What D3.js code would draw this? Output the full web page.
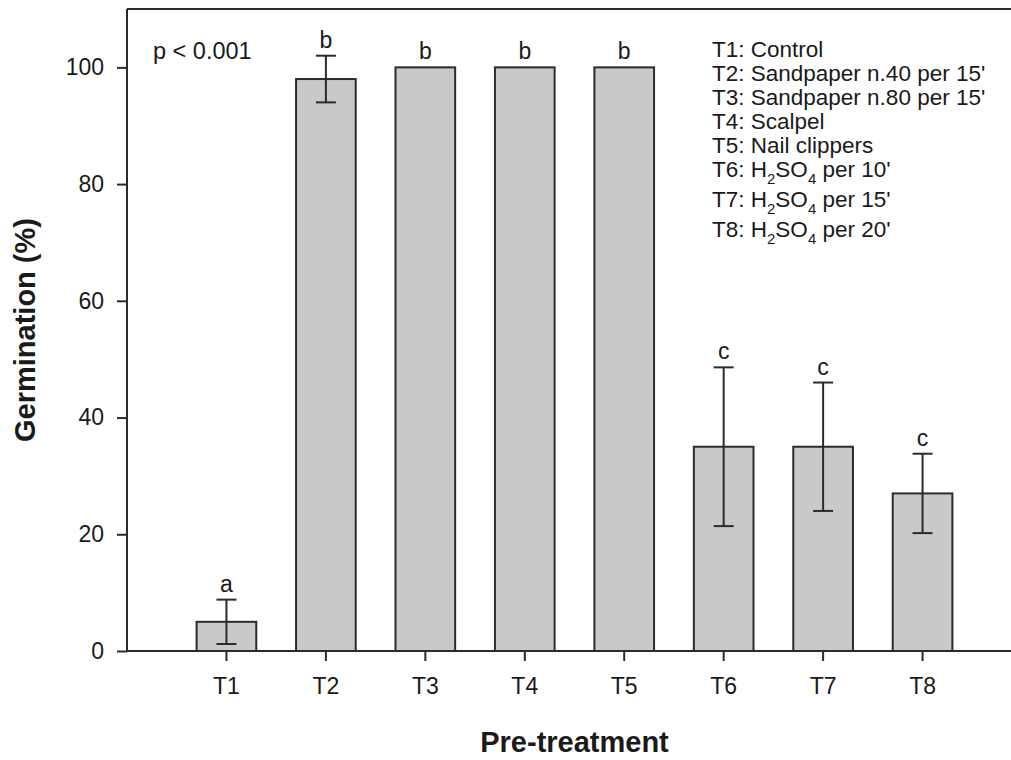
<!DOCTYPE html>
<html>
<head>
<meta charset="utf-8">
<script src="https://cdn.jsdelivr.net/npm/d3@7/dist/d3.min.js"></script>
<style>
  html, body { margin: 0; padding: 0; background: #fff; }
  svg { display: block; }
  text { font-family: "Liberation Sans", Arial, sans-serif; fill: #1a1a1a; }
</style>
</head>
<body>
<svg id="chart" width="1011" height="760"></svg>
<script>
// ---- Data ----
const categories = ["T1", "T2", "T3", "T4", "T5", "T6", "T7", "T8"];
const germination = [5, 98, 100, 100, 100, 35, 35, 27];
const errors = [3.8, 4, 0, 0, 0, 13.6, 11, 6.8];
const letters = ["a", "b", "b", "b", "b", "c", "c", "c"];
const yTicks = [0, 20, 40, 60, 80, 100];
const legendItems = [
  ["T1: Control"],
  ["T2: Sandpaper n.40 per 15'"],
  ["T3: Sandpaper n.80 per 15'"],
  ["T4: Scalpel"],
  ["T5: Nail clippers"],
  ["T6: H", "2", "SO", "4", " per 10'"],
  ["T7: H", "2", "SO", "4", " per 15'"],
  ["T8: H", "2", "SO", "4", " per 20'"]
];
const pText = "p < 0.001";
const xTitle = "Pre-treatment";
const yTitle = "Germination (%)";

// ---- Layout ----
const pLeft = 127, pRight = 1022, pTop = 9, pBottom = 651;
const svg = d3.select("#chart");

const x = d3.scaleBand().domain(categories).range([pLeft, pRight])
  .paddingInner(0.4).paddingOuter(0.7);
const y = d3.scaleLinear().domain([0, 110]).range([pBottom, pTop]);

const ink = "#2b2b2b";

// Bars
svg.append("g").selectAll("rect").data(categories).join("rect")
  .attr("x", d => x(d))
  .attr("y", (d, i) => y(germination[i]))
  .attr("width", x.bandwidth())
  .attr("height", (d, i) => y(0) - y(germination[i]))
  .attr("fill", "#c9c9c9")
  .attr("stroke", ink)
  .attr("stroke-width", 2);

// Error bars
const eg = svg.append("g").attr("stroke", ink).attr("stroke-width", 2);
categories.forEach((c, i) => {
  if (errors[i] <= 0) return;
  const cx = x(c) + x.bandwidth() / 2;
  const y1 = y(germination[i] + errors[i]);
  const y0 = y(germination[i] - errors[i]);
  eg.append("line").attr("x1", cx).attr("x2", cx).attr("y1", y1).attr("y2", y0);
  eg.append("line").attr("x1", cx - 10).attr("x2", cx + 10).attr("y1", y1).attr("y2", y1);
  eg.append("line").attr("x1", cx - 10).attr("x2", cx + 10).attr("y1", y0).attr("y2", y0);
});

// Letters
svg.append("g").selectAll("text").data(categories).join("text")
  .attr("x", d => x(d) + x.bandwidth() / 2)
  .attr("y", (d, i) => y(germination[i] + errors[i]) - 8)
  .attr("text-anchor", "middle")
  .attr("font-size", 23)
  .text((d, i) => letters[i]);

// Frame: top line
svg.append("line").attr("x1", pLeft).attr("x2", pRight).attr("y1", pTop).attr("y2", pTop)
  .attr("stroke", ink).attr("stroke-width", 2);

// Y axis
const yAxis = svg.append("g").attr("transform", `translate(${pLeft},0)`)
  .call(d3.axisLeft(y).tickValues(yTicks).tickSize(10).tickPadding(13).tickSizeOuter(0));
yAxis.select(".domain").remove();
yAxis.append("line").attr("x1", 0).attr("x2", 0).attr("y1", pTop).attr("y2", pBottom)
  .attr("stroke", ink).attr("stroke-width", 2);
yAxis.selectAll(".tick line").attr("stroke", ink).attr("stroke-width", 2);
yAxis.selectAll(".tick text").attr("font-size", 23).attr("fill", "#1a1a1a")
  .style("font-family", '"Liberation Sans", Arial, sans-serif');

// X axis
const xAxis = svg.append("g").attr("transform", `translate(0,${pBottom})`)
  .call(d3.axisBottom(x).tickSize(10).tickPadding(17).tickSizeOuter(0));
xAxis.select(".domain").remove();
xAxis.append("line").attr("x1", pLeft).attr("x2", pRight).attr("y1", 0).attr("y2", 0)
  .attr("stroke", ink).attr("stroke-width", 2);
xAxis.selectAll(".tick line").attr("stroke", ink).attr("stroke-width", 2);
xAxis.selectAll(".tick text").attr("font-size", 23).attr("fill", "#1a1a1a")
  .style("font-family", '"Liberation Sans", Arial, sans-serif');

// Titles
svg.append("text")
  .attr("x", (pLeft + pRight) / 2).attr("y", 752)
  .attr("text-anchor", "middle").attr("font-size", 29).attr("font-weight", "bold")
  .text(xTitle);
svg.append("text")
  .attr("transform", `translate(35,${(pTop + pBottom) / 2}) rotate(-90)`)
  .attr("text-anchor", "middle").attr("font-size", 29).attr("font-weight", "bold")
  .text(yTitle);

// p-value
svg.append("text").attr("x", 153).attr("y", 59).attr("font-size", 23.5).text(pText);

// Legend
const legendY = [56.5, 80.5, 104.5, 129, 153, 177, 207, 237];
const lg = svg.append("g");
legendItems.forEach((parts, i) => {
  const t = lg.append("text").attr("x", 712).attr("y", legendY[i]).attr("font-size", 22.5);
  parts.forEach((p, j) => {
    const isSub = parts.length > 1 && (j === 1 || j === 3);
    const ts = t.append("tspan").text(p);
    if (isSub) ts.attr("font-size", 15).attr("dy", 7);
    else if (j > 0) ts.attr("dy", -7);
  });
});
</script>
</body>
</html>
